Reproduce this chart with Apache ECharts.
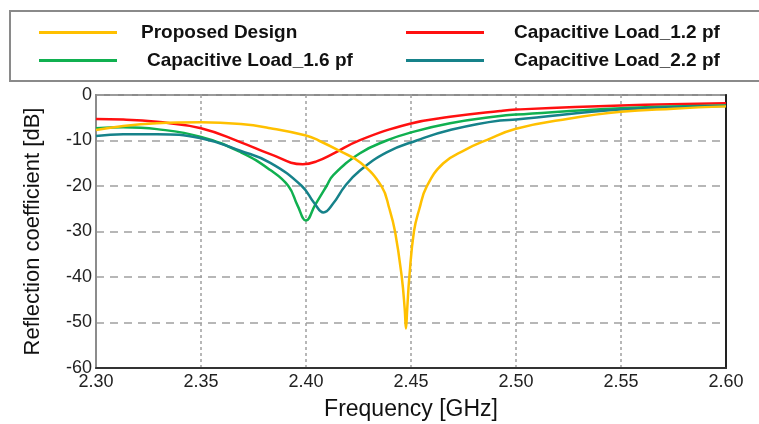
<!DOCTYPE html>
<html>
<head>
<meta charset="utf-8">
<script src="https://cdn.jsdelivr.net/npm/echarts@6/dist/echarts.min.js"></script>
<style>
  html, body { margin: 0; padding: 0; background: #fff; }
  #chart { width: 759px; height: 424px; }
</style>
</head>
<body>
<div id="chart"></div>
<script>
// Reflection coefficient (S11) versus frequency for the four designs
const seriesNames = ['Proposed Design', 'Capacitive Load_1.2 pf', 'Capacitive Load_1.6 pf', 'Capacitive Load_2.2 pf'];
const seriesColors = ['#FFC000', '#FF1010', '#10B050', '#16828A'];

const freqProposed = [2.300, 2.313, 2.329, 2.350, 2.369, 2.383, 2.400, 2.406, 2.416, 2.426, 2.436, 2.4397, 2.4424, 2.4456, 2.4470, 2.4476, 2.4482, 2.4492, 2.4514, 2.4540, 2.4575, 2.4654, 2.476, 2.486, 2.500, 2.525, 2.550, 2.575, 2.600];
const s11Proposed  = [-7.7, -6.8, -6.2, -6.0, -6.4, -7.3, -8.9, -10.0, -12.3, -14.9, -20.1, -25.0, -30.0, -40.0, -47.0, -51.3, -47.0, -40.0, -30.0, -25.0, -20.1, -15.0, -12.0, -9.9, -7.4, -5.2, -3.7, -3.0, -2.5];

const freqLoad12 = [2.300, 2.313, 2.329, 2.350, 2.369, 2.383, 2.3985, 2.405, 2.413, 2.4257, 2.4495, 2.4686, 2.4924, 2.500, 2.550, 2.600];
const s11Load12  = [-5.3, -5.4, -5.9, -7.3, -10.4, -13.0, -15.2, -14.6, -12.9, -9.9, -6.3, -4.8, -3.5, -3.2, -2.3, -1.8];

const freqLoad16 = [2.300, 2.313, 2.329, 2.350, 2.369, 2.383, 2.3916, 2.3960, 2.400, 2.4043, 2.4098, 2.413, 2.4257, 2.4384, 2.4495, 2.4686, 2.4924, 2.500, 2.550, 2.600];
const s11Load16  = [-7.3, -7.1, -7.5, -9.2, -12.6, -16.5, -20.0, -24.3, -27.6, -24.2, -20.0, -17.6, -12.8, -10.0, -8.3, -6.2, -4.6, -4.3, -2.9, -2.3];

const freqLoad22 = [2.300, 2.313, 2.329, 2.350, 2.369, 2.383, 2.398, 2.404, 2.4083, 2.413, 2.4186, 2.4257, 2.4384, 2.4527, 2.4686, 2.4924, 2.500, 2.550, 2.600];
const s11Load22  = [-9.0, -8.6, -8.6, -9.5, -12.3, -14.9, -20.0, -23.8, -25.8, -23.8, -20.0, -16.6, -12.6, -10.0, -7.7, -5.6, -5.4, -3.2, -2.4];

const xTicks = { min: 2.30, max: 2.60, step: 0.05 };
const yTicks = { min: -60, max: 0, step: 10 };

const pairs = (xs, ys) => xs.map((x, i) => [x, ys[i]]);
const seriesData = [
  pairs(freqProposed, s11Proposed),
  pairs(freqLoad12, s11Load12),
  pairs(freqLoad16, s11Load16),
  pairs(freqLoad22, s11Load22)
];

const chart = echarts.init(document.getElementById('chart'), null, { renderer: 'canvas' });

const legendFont = { fontFamily: 'Liberation Sans, Arial, sans-serif', fontWeight: 'bold', fontSize: 19, color: '#111' };
const legendPos = [
  { left: 39, top: 23, pad: 19 },
  { left: 406, top: 23, pad: 25 },
  { left: 39, top: 51, pad: 25 },
  { left: 406, top: 51, pad: 25 }
];

const option = {
  backgroundColor: '#fff',
  animation: false,
  graphic: [{
    type: 'rect',
    shape: { x: 10, y: 11, width: 760, height: 70 },
    style: { fill: 'none', stroke: '#8a8a8a', lineWidth: 2 },
    z: 0
  }],
  legend: seriesNames.map((name, i) => ({
    data: [name],
    left: legendPos[i].left,
    top: legendPos[i].top,
    icon: 'rect',
    itemWidth: 78,
    itemHeight: 3,
    padding: 0,
    selectedMode: false,
    textStyle: Object.assign({ padding: [0, 0, 0, legendPos[i].pad] }, legendFont)
  })),
  grid: {
    left: 96, right: 33, top: 95, bottom: 56,
    outerBoundsMode: 'none',
    containLabel: false,
    show: true, borderColor: '#8c8c8c', borderWidth: 2, backgroundColor: '#fff'
  },
  xAxis: {
    type: 'value',
    min: xTicks.min, max: xTicks.max, interval: xTicks.step,
    name: 'Frequency [GHz]',
    nameLocation: 'middle',
    nameGap: 30,
    nameTextStyle: { fontFamily: 'Liberation Sans, Arial, sans-serif', fontSize: 23, color: '#111' },
    axisLine: { show: true, onZero: false, lineStyle: { color: '#333', width: 2 } },
    axisTick: { show: false },
    axisLabel: {
      fontFamily: 'Liberation Sans, Arial, sans-serif', fontSize: 18, color: '#222', margin: 5,
      formatter: v => v.toFixed(2)
    },
    splitLine: { show: true, lineStyle: { color: '#a0a0a0', type: [3, 3], width: 1.5 } }
  },
  yAxis: [{
    type: 'value',
    min: yTicks.min, max: yTicks.max, interval: yTicks.step,
    name: 'Reflection coefficient [dB]',
    nameLocation: 'middle',
    nameGap: 52,
    nameTextStyle: { fontFamily: 'Liberation Sans, Arial, sans-serif', fontSize: 22, color: '#111' },
    axisLine: { show: true, lineStyle: { color: '#8c8c8c', width: 2 } },
    axisTick: { show: false },
    axisLabel: { fontFamily: 'Liberation Sans, Arial, sans-serif', fontSize: 18, color: '#222', margin: 4 },
    splitLine: { show: true, lineStyle: { color: '#a0a0a0', type: [8, 6], width: 1.5 } }
  }, {
    type: 'value',
    position: 'right',
    min: yTicks.min, max: yTicks.max, interval: yTicks.step,
    axisLine: { show: true, lineStyle: { color: '#222', width: 2 } },
    axisTick: { show: false },
    axisLabel: { show: false },
    splitLine: { show: false }
  }],
  series: seriesNames.map((name, i) => ({
    name: name,
    type: 'line',
    data: seriesData[i],
    smooth: 0.45,
    symbol: 'none',
    color: seriesColors[i],
    lineStyle: { color: seriesColors[i], width: 2.5 },
    z: 2 + (i === 0 ? 4 : i)
  }))
};

chart.setOption(option);
</script>
</body>
</html>
